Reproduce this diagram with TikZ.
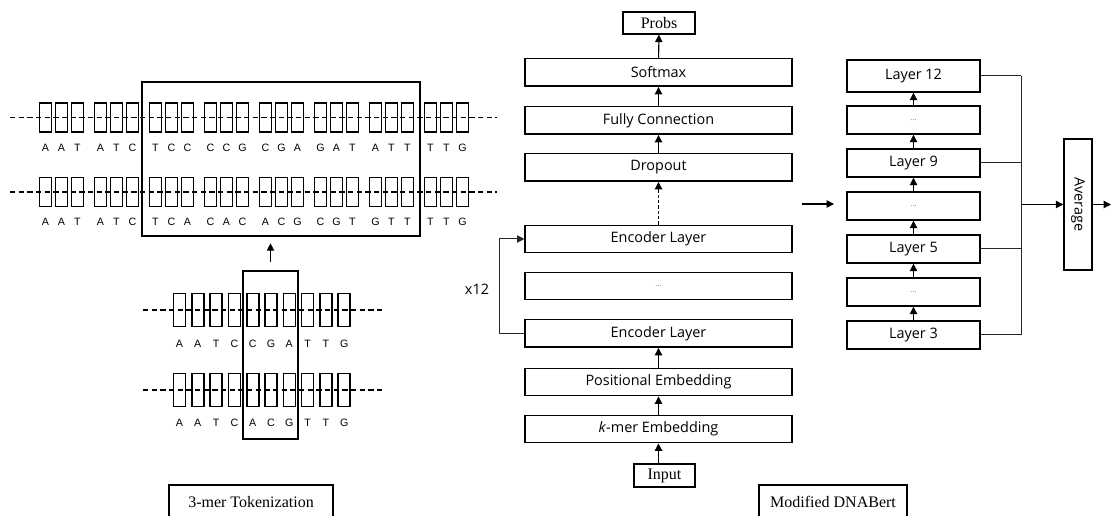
\documentclass[tikz,border=0pt]{standalone}
\usepackage{fontspec}
\setmainfont{Liberation Serif}
\setsansfont{Open Sans}
\newfontfamily\dnafont{Liberation Sans}
\usetikzlibrary{arrows.meta}
\tikzset{
  arr/.style={line width=0.8pt, -{Triangle[width=5.5pt,length=5.5pt]}},
  thin line/.style={line width=0.75pt, black!85},
  layerbox/.style={draw, line width=1.1pt, font=\sffamily\fontsize{10.8}{12}\selectfont, inner sep=0pt, align=center},
  midbox/.style={layerbox, minimum width=200pt, minimum height=20.6pt},
  rbox/.style={layerbox, minimum width=99.75pt, minimum height=21pt},
  serifbox/.style={draw, line width=1.1pt, font=\fontsize{12}{13}\selectfont, inner sep=0pt},
  labelbox/.style={draw, line width=0.9pt, font=\fontsize{12}{13}\selectfont, inner sep=0pt},
  base/.style={draw, line width=1.2pt, minimum width=9pt, minimum height=21.75pt, inner sep=0pt},
  letter/.style={font=\dnafont\fontsize{8}{9}\selectfont, inner sep=0pt},
  dnaline/.style={dash pattern=on 4pt off 2.5pt, line width=1pt},
  hlbox/.style={draw, line width=1pt, inner sep=0pt},
}
\newcommand{\dotstext}{{\color{gray}\fontsize{6}{6}\selectfont\dots}}
\begin{document}
\begin{tikzpicture}[x=0.75pt,y=-0.75pt]
\useasboundingbox (0,0) rectangle (1111,516);
\clip (0,0) rectangle (1111,516);

% ---------- top DNA rows ----------
\coordinate (d1a) at (10,117.5); \coordinate (d1b) at (497,117.5);
\coordinate (d2a) at (10,192); \coordinate (d2b) at (497,192);
\draw[dnaline] (d1a) -- (d1b);
\draw[dnaline] (d2a) -- (d2b);
\foreach \L [count=\i from 0] in {A,A,T,A,T,C,T,C,C,C,C,G,C,G,A,G,A,T,A,T,T,T,T,G}{
  \pgfmathtruncatemacro\g{\i/3}
  \pgfmathtruncatemacro\k{\i-3*\g}
  \pgfmathsetmacro\xx{45.5+55*\g+16*\k}
  \node[base] (ta\i) at (\xx,117.5) {};
  \node[letter] (la\i) at (\xx,148) {\L};
}
\foreach \L [count=\i from 0] in {A,A,T,A,T,C,T,C,A,C,A,C,A,C,G,C,G,T,G,T,T,T,T,G}{
  \pgfmathtruncatemacro\g{\i/3}
  \pgfmathtruncatemacro\k{\i-3*\g}
  \pgfmathsetmacro\xx{45.5+55*\g+16*\k}
  \node[base] (tb\i) at (\xx,192) {};
  \node[letter] (lb\i) at (\xx,222) {\L};
}
\node[hlbox, minimum width=208.5pt, minimum height=115.5pt] (hl1) at (281,159) {};

% ---------- lower DNA rows ----------
\coordinate (e1a) at (143,310); \coordinate (e1b) at (382,310);
\coordinate (e2a) at (143,390); \coordinate (e2b) at (382,390);
\draw[dnaline] (e1a) -- (e1b);
\draw[dnaline] (e2a) -- (e2b);
\foreach \L [count=\i from 0] in {A,A,T,C,C,G,A,T,T,G}{
  \pgfmathsetmacro\xx{179.5+18.3*\i}
  \node[base, minimum height=24.75pt] (ua\i) at (\xx,310) {};
  \node[letter] (ula\i) at (\xx,344) {\L};
}
\foreach \L [count=\i from 0] in {A,A,T,C,A,C,G,T,T,G}{
  \pgfmathsetmacro\xx{179.5+18.3*\i}
  \node[base, minimum height=24.75pt] (ub\i) at (\xx,390) {};
  \node[letter] (ulb\i) at (\xx,423) {\L};
}
\node[hlbox, minimum width=41.25pt, minimum height=126pt] (hl2) at (270.5,355) {};
\draw[arr, shorten <=6pt, shorten >=5pt] (hl2.north) -- (hl2.north |- hl1.south);

\node[labelbox, minimum width=123pt, minimum height=25.5pt] (tok) at (251,502) {3-mer Tokenization};

% ---------- middle column ----------
\node[serifbox, minimum width=54pt, minimum height=16.5pt] (probs) at (659,23) {Probs};
\node[midbox] (soft) at (658.5,72.5) {Softmax};
\node[midbox] (fc) at (658.5,120.5) {Fully Connection};
\node[midbox] (drop) at (658.5,167.5) {Dropout};
\node[midbox] (enct) at (658.5,239) {Encoder Layer};
\node[midbox] (encd) at (658.5,286) {\dotstext};
\node[midbox] (encb) at (658.5,333.5) {Encoder Layer};
\node[midbox] (pos) at (658.5,382) {Positional Embedding};
\node[midbox] (kmer) at (658.5,429) {\textit{k}-mer Embedding};
\node[serifbox, minimum width=45.75pt, minimum height=17.25pt] (input) at (664.5,475.5) {Input};

\draw[arr] (input.north -| kmer.south) -- (kmer.south);
\draw[arr] (kmer) -- (pos);
\draw[arr] (pos) -- (encb);
\draw[arr, dash pattern=on 2.5pt off 1.5pt] (enct) -- (drop);
\draw[arr] (drop) -- (fc);
\draw[arr] (fc) -- (soft);
\draw[arr] (soft) -- (probs);

\coordinate (loop) at (499,0);
\draw[arr, thin line] (encb.west) -- (encb.west -| loop) -- (enct.west -| loop) -- (enct.west);
\node[font=\sffamily\fontsize{10.8}{12}\selectfont] (x12) at (477,289) {x12};

\node[labelbox, minimum width=111pt, minimum height=25.5pt] (dnab) at (833,502) {Modified DNABert};

% ---------- connecting arrow ----------
\coordinate (ca) at (802,204);
\coordinate (cb) at (834,204);
\draw[arr] (ca) -- (cb);

% ---------- right column ----------
\node[rbox, minimum height=24pt] (r12) at (913.5,76) {Layer 12};
\node[rbox] (r11) at (913.5,120) {\dotstext};
\node[rbox] (r9) at (913.5,163) {Layer 9};
\node[rbox] (r7) at (913.5,206) {\dotstext};
\node[rbox] (r5) at (913.5,249) {Layer 5};
\node[rbox] (r4) at (913.5,292) {\dotstext};
\node[rbox] (r3) at (913.5,335) {Layer 3};
\draw[arr] (r3) -- (r4);
\draw[arr] (r4) -- (r5);
\draw[arr] (r5) -- (r7);
\draw[arr] (r7) -- (r9);
\draw[arr] (r9) -- (r11);
\draw[arr] (r11) -- (r12);

\node[draw, line width=1.1pt, minimum width=21pt, minimum height=98.25pt, inner sep=0pt,
      font=\sffamily\fontsize{10.8}{12}\selectfont] (avg) at (1078,204.5) {\rotatebox{-90}{Average}};
\coordinate (bus) at (1021,0);
\coordinate (out) at (1111,204.5);
\draw[thin line] (r12.east) -- (r12.east -| bus);
\draw[thin line] (r9.east) -- (r9.east -| bus);
\draw[thin line] (r5.east) -- (r5.east -| bus);
\draw[thin line] (r3.east) -- (r3.east -| bus);
\draw[thin line] (r12.east -| bus) -- (r3.east -| bus);
\draw[arr] (bus |- avg.west) -- (avg.west);
\draw[arr] (avg.east) -- (out);
\end{tikzpicture}
\end{document}
